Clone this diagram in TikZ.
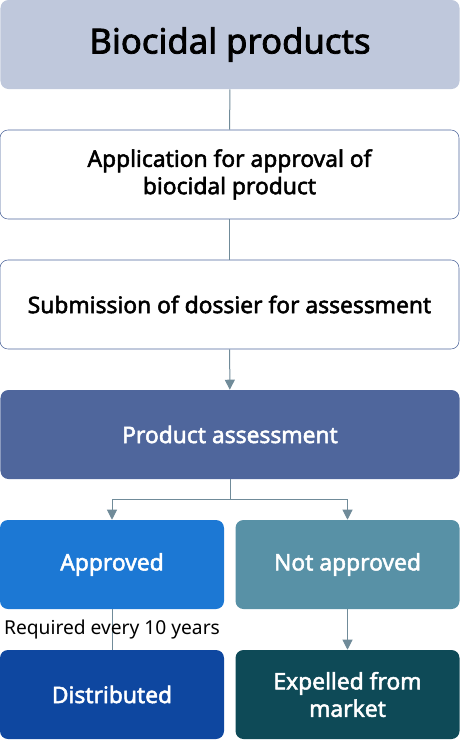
\documentclass[tikz,border=0pt]{standalone}
\usepackage{fontspec}
\setmainfont{Noto Sans}
\newfontface\midface{Noto Sans}[FakeBold=2.2]
\usetikzlibrary{arrows.meta}

\definecolor{headfill}{HTML}{BFC8DC}
\definecolor{boxline}{HTML}{4F669C}
\definecolor{assessfill}{HTML}{4F669C}
\definecolor{approvedfill}{HTML}{1C78D4}
\definecolor{rejectfill}{HTML}{5891A6}
\definecolor{distfill}{HTML}{0E47A0}
\definecolor{expelfill}{HTML}{0E4A57}
\definecolor{linkline}{HTML}{708B99}

\tikzset{
  stage/.style={rounded corners=6pt, minimum height=66.75pt, align=center,
    inner sep=0pt, font=\midface\fontsize{17.1}{20.5}\selectfont},
  wide/.style={stage, minimum width=344.25pt},
  half/.style={stage, minimum width=168pt},
  link/.style={draw=linkline, line width=0.75pt},
  arrowlink/.style={link, -{Triangle[width=7.5pt,length=7.5pt]}}
}

\begin{document}
\begin{tikzpicture}[x=0.75pt, y=-0.75pt]
	\useasboundingbox (0,0) rectangle (460,740);

	\node [wide, fill=headfill, font=\midface\fontsize{26}{30}\selectfont] (head) at (230, 44.5) {Biocidal products};
	\node [wide, draw=boxline, fill=white] (apply) at (229.5, 174.5) {Application for approval of\\biocidal product};
	\node [wide, draw=boxline, fill=white] (submit) at (229.5, 304.5) {Submission of dossier for assessment};
	\node [wide, fill=assessfill, text=white] (assess) at (230, 434.5) {Product assessment};
	\node [half, fill=approvedfill, text=white] (approved) at (112, 564.5) {Approved};
	\node [half, fill=rejectfill, text=white] (rejected) at (347.5, 564.5) {Not approved};
	\node [half, fill=distfill, text=white] (dist) at (112, 694.5) {Distributed};
	\node [half, fill=expelfill, text=white] (expel) at (347.5, 694.5) {Expelled from\\market};

	\coordinate (split) at (230, 499);

	\draw [link] (head) -- (apply);
	\draw [link] (apply) -- (submit);
	\draw [arrowlink] (submit) -- (assess);
	\draw [link] (assess) -- (split);
	\draw [arrowlink] (split) -| (approved);
	\draw [arrowlink] (split) -| (rejected);
	\draw [link] (approved) -- (dist) node [midway, text=black, fill=none, font=\fontsize{14.4}{17}\selectfont] (renew) {Required every 10 years};
	\draw [arrowlink] (rejected) -- (expel);
\end{tikzpicture}
\end{document}
